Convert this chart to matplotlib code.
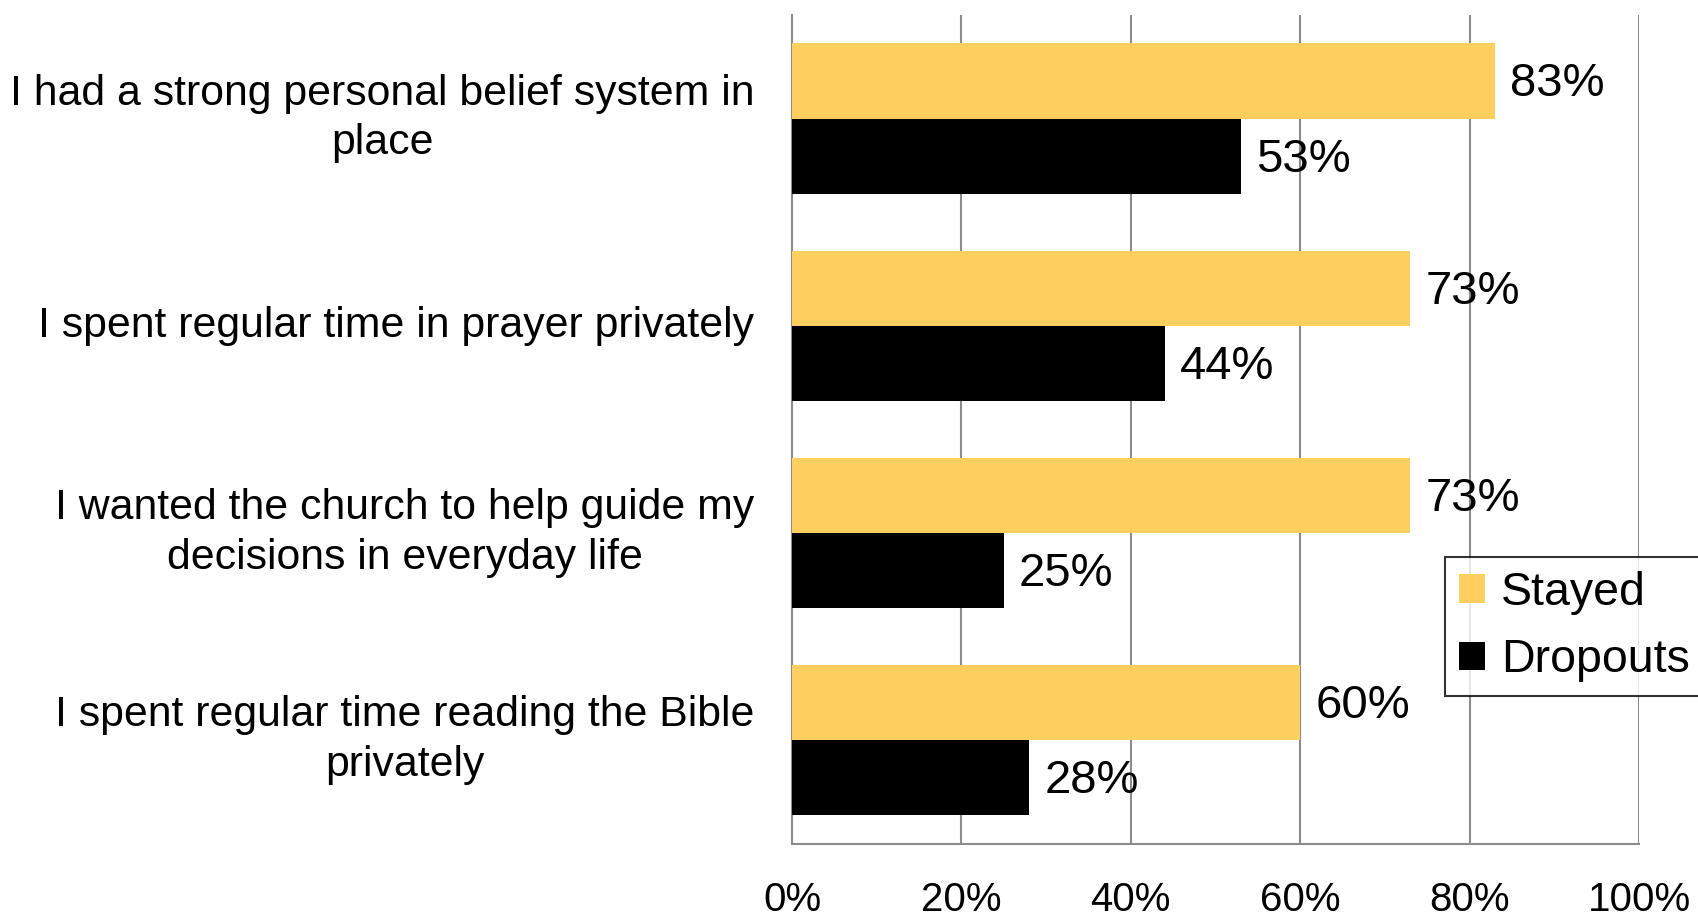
import numpy as np
import matplotlib
matplotlib.use("Agg")
from matplotlib import pyplot as plt
from matplotlib.patches import Patch

# chart data
categories = [
    "I had a strong personal belief system in\nplace",
    "I spent regular time in prayer privately",
    "I wanted the church to help guide my\ndecisions in everyday life",
    "I spent regular time reading the Bible\nprivately",
]
stayed = [83, 73, 73, 60]
dropouts = [53, 44, 25, 28]
series_names = ["Stayed", "Dropouts"]
x_ticks = [0, 20, 40, 60, 80, 100]
x_tick_labels = ["0%", "20%", "40%", "60%", "80%", "100%"]

stayed_color = "#FECE5F"
dropout_color = "#000000"
grid_color = "#8C8C8C"

plt.rcParams["font.family"] = ["Liberation Sans", "DejaVu Sans"]

fig = plt.figure(figsize=(16.98, 9.17), dpi=100)
ax = fig.add_axes([0.4664, 0.080, 0.4989, 0.9036])

y = np.arange(len(categories))
bar_h = 0.363

bars_s = ax.barh(y - bar_h / 2, stayed, height=bar_h, color=stayed_color, zorder=3)
bars_d = ax.barh(y + bar_h / 2, dropouts, height=bar_h, color=dropout_color, zorder=3)

# value labels to the right of each bar
for bars, vals in [(bars_s, stayed), (bars_d, dropouts)]:
    for b, v in zip(bars, vals):
        ax.annotate(f"{v}%", (b.get_width(), b.get_y() + b.get_height() / 2),
                    xytext=(11, -2.5), textcoords="offset points",
                    ha="left", va="center", fontsize=34, zorder=4)

ax.set_xlim(0, 100)
ax.set_ylim(len(categories) - 0.5, -0.5)

ax.set_xticks(x_ticks)
ax.set_xticklabels(x_tick_labels, fontsize=29)
ax.set_yticks(y)
ax.set_yticklabels(categories, fontsize=30.8)
for lbl in ax.get_yticklabels():
    lbl.set_multialignment("center")
    lbl.set_linespacing(1.3)
    lbl.set_va("center")
ax.tick_params(axis="x", length=0, pad=27)
ax.tick_params(axis="y", length=0, pad=27)

ax.xaxis.grid(True, color=grid_color, linewidth=1.5, zorder=0)
ax.set_axisbelow(True)
for s in ["top", "right"]:
    ax.spines[s].set_visible(False)
for s in ["left", "bottom"]:
    ax.spines[s].set_color(grid_color)
    ax.spines[s].set_linewidth(1.5)

handles = [Patch(facecolor=stayed_color), Patch(facecolor=dropout_color)]
leg = ax.legend(handles, series_names, loc="upper left",
                bbox_to_anchor=(1445 / 1698, 1 - 557 / 917),
                bbox_transform=fig.transFigure, fontsize=33.5,
                frameon=True, fancybox=False, borderaxespad=0,
                handlelength=0.55, handleheight=0.55, handletextpad=0.35,
                labelspacing=0.5, borderpad=0.3)
leg.get_frame().set_edgecolor("#000000")
leg.get_frame().set_linewidth(1.5)

fig.savefig("out.png", dpi=100)
